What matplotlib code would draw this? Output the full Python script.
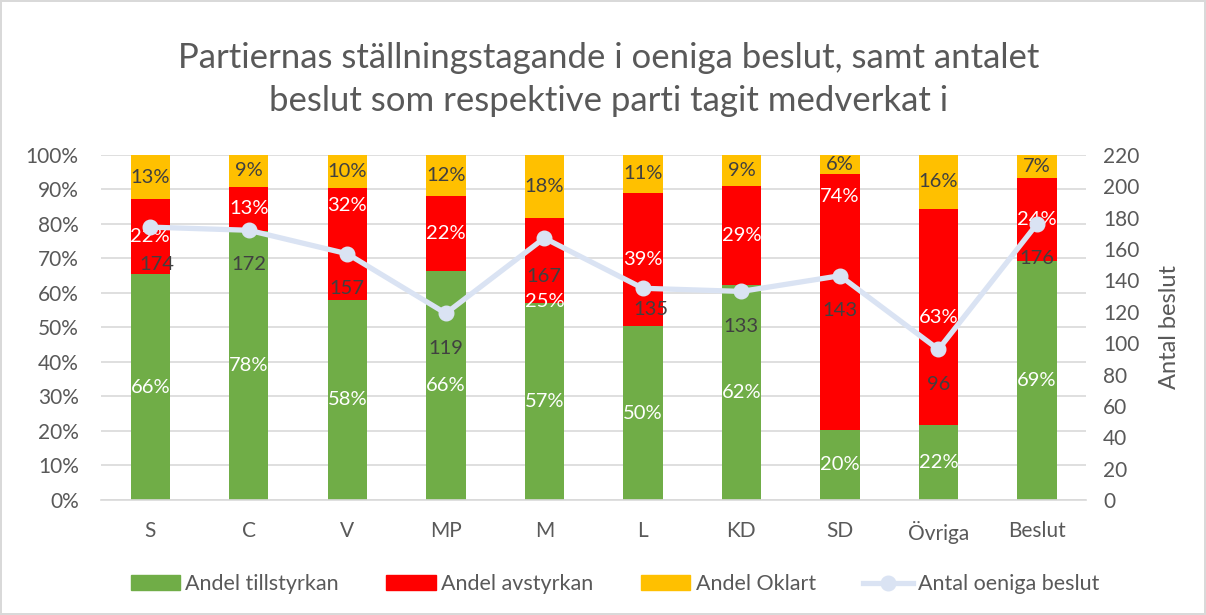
import numpy as np
import matplotlib; matplotlib.use("Agg")
import matplotlib.pyplot as plt
from matplotlib.ticker import PercentFormatter, MultipleLocator
from matplotlib.patches import Patch
from matplotlib.lines import Line2D

# ---- data (shares, labels shown rounded) ----
parties = ["S", "C", "V", "MP", "M", "L", "KD", "SD", "Övriga", "Beslut"]
tillstyrkan = [65.5, 77.9, 58.0, 66.4, 57.1, 50.3, 62.4, 20.3, 21.6, 69.4]
avstyrkan = [21.6, 12.9, 32.4, 21.8, 24.7, 38.8, 28.7, 74.1, 62.8, 23.8]
oklart = [12.9, 9.2, 9.6, 11.8, 18.2, 10.9, 8.9, 5.6, 15.6, 6.8]
antal = [174, 172, 157, 119, 167, 135, 133, 143, 96, 176]

# labels that were dragged by hand in the original (axis fraction)
red_label_y = {2: 0.855, 4: 0.575, 7: 0.881}
line_label_off = {5: (6, -15), 0: (5, -27), 4: (0, -28)}

GREEN, RED, YELLOW, LINE = "#70AD47", "#FF0000", "#FFC000", "#DAE3F3"
TXT = "#595959"; DARK = "#404040"
plt.rcParams.update({"font.family": ["Lato", "DejaVu Sans"], "font.size": 15})

fig = plt.figure(figsize=(12.06, 6.15), dpi=100)
fig.patch.set_edgecolor("#D9D9D9"); fig.patch.set_linewidth(1.5)
ax = fig.add_axes([0.0837, 0.187, 0.817, 0.561])
xs = np.arange(len(parties))
w = 0.4
g = np.array(tillstyrkan) / 100; r = np.array(avstyrkan) / 100; y = np.array(oklart) / 100
ax.bar(xs, g, w, color=GREEN, zorder=2)
ax.bar(xs, r, w, bottom=g, color=RED, zorder=2)
ax.bar(xs, y, w, bottom=g + r, color=YELLOW, zorder=2)

for i, (x, a, b, c) in enumerate(zip(xs, g, r, y)):
    ax.text(x, a / 2, f"{a*100:.0f}%", ha="center", va="center", color="white", fontsize=14.5, zorder=5)
    ax.text(x, red_label_y.get(i, a + b / 2), f"{b*100:.0f}%", ha="center", va="center",
            color="white", fontsize=14.5, zorder=5)
    ax.text(x, a + b + c / 2, f"{c*100:.0f}%", ha="center", va="center", color=DARK, fontsize=14.5, zorder=5)

ax.set_xlim(-0.5, len(parties) - 0.5)
ax.set_ylim(0, 1)
ax.yaxis.set_major_locator(MultipleLocator(0.1))
ax.yaxis.set_major_formatter(PercentFormatter(1.0, decimals=0))
ax.set_xticks(xs); ax.set_xticklabels(parties)
ax.grid(axis="y", color="#D9D9D9", lw=1.2, zorder=0)
ax.tick_params(length=0, colors=TXT, labelsize=15)
ax.tick_params(axis="x", pad=15)
ax.tick_params(axis="y", pad=16)
for s in ("top", "right", "left"):
    ax.spines[s].set_visible(False)
ax.spines["bottom"].set_color("#D9D9D9"); ax.spines["bottom"].set_linewidth(1.2)

ax2 = ax.twinx()
ax2.plot(xs, antal, color=LINE, lw=3.8, marker="o", ms=10.5, zorder=4)
for i, (x, v) in enumerate(zip(xs, antal)):
    ax2.annotate(f"{v}", (x, v), xytext=line_label_off.get(i, (0, -25)), textcoords="offset points",
                 ha="center", va="center", color=DARK, fontsize=14.5, zorder=6)
ax2.set_ylim(0, 220)
ax2.yaxis.set_major_locator(MultipleLocator(20))
ax2.tick_params(length=0, colors=TXT, labelsize=15, pad=12)
for s in ax2.spines.values():
    s.set_visible(False)
ax2.set_ylabel("Antal beslut", color=TXT, fontsize=17, labelpad=14)

fig.text(0.505, 0.905, "Partiernas ställningstagande i oeniga beslut, samt antalet", ha="center",
         va="center", fontsize=25, color=TXT)
fig.text(0.505, 0.835, "beslut som respektive parti tagit medverkat i", ha="center",
         va="center", fontsize=25, color=TXT)

handles = [Patch(color=GREEN, label="Andel tillstyrkan"), Patch(color=RED, label="Andel avstyrkan"),
           Patch(color=YELLOW, label="Andel Oklart"),
           Line2D([], [], color=LINE, lw=3.8, marker="o", ms=10.5, label="Antal oeniga beslut")]
leg = fig.legend(handles=handles, loc="center", bbox_to_anchor=(0.51, 0.05), ncol=4, frameon=False,
                 fontsize=15.5, handlelength=2.3, columnspacing=2.2, handletextpad=0.25)
for t in leg.get_texts():
    t.set_color(TXT)

fig.savefig("out.png", dpi=100)
